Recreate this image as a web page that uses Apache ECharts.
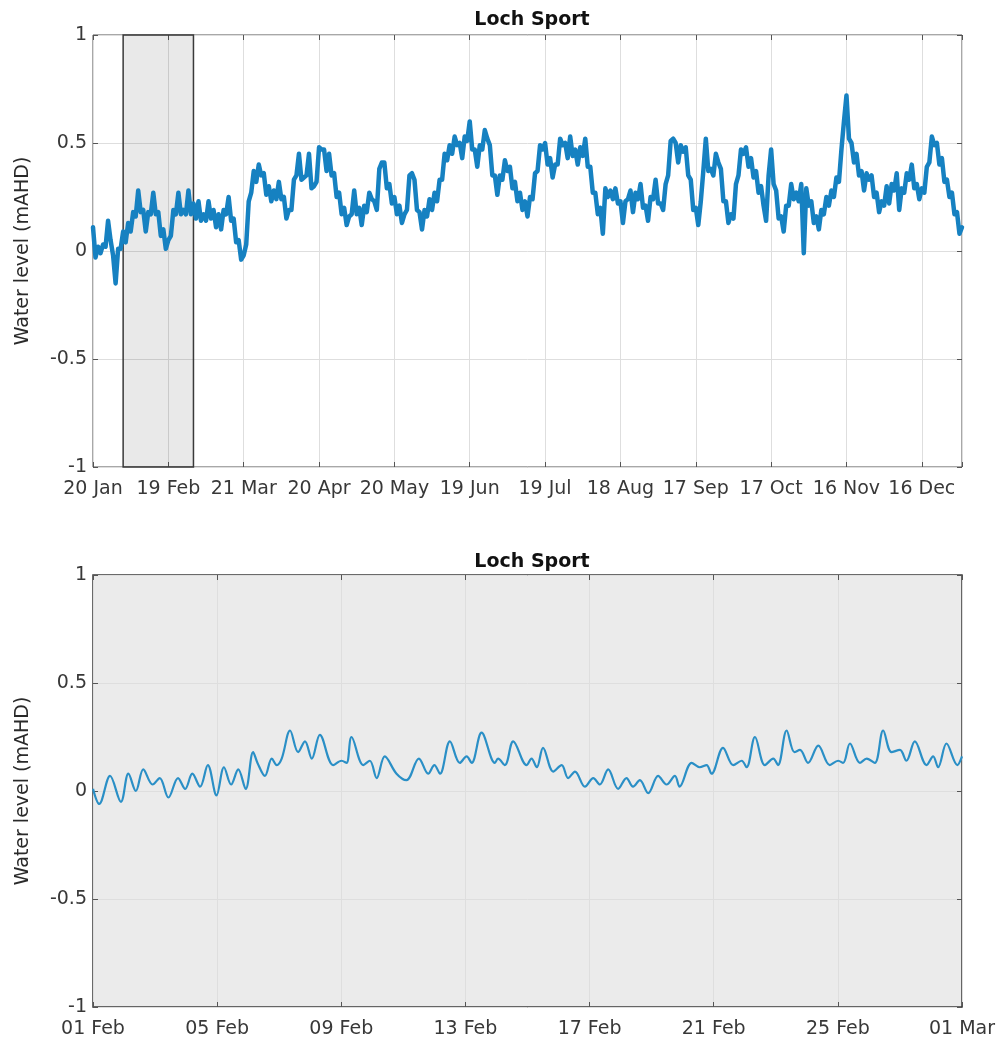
<!DOCTYPE html>
<html><head><meta charset="utf-8">
<script src="https://cdn.jsdelivr.net/npm/echarts@6/dist/echarts.min.js"></script>
<style>html,body{margin:0;padding:0;background:#fff}#c{width:1002px;height:1049px}</style>
</head><body><div id="c"></div>
<script>
// ---------------- data ----------------
const chartTitle = 'Loch Sport';
const yAxisName = 'Water level (mAHD)';
const yTickValues = [-1, -0.5, 0, 0.5, 1];

// Top panel: x is days since 20 Jan (daily samples)
const yearTickLabels = ['20 Jan','19 Feb','21 Mar','20 Apr','20 May','19 Jun','19 Jul','18 Aug','17 Sep','17 Oct','16 Nov','16 Dec'];
const yearLevels = [
 0.11,-0.03,0.02,-0.01,0.03,0.02,0.14,0.05,-0.02,-0.15,
 0.01,0.01,0.09,0.04,0.13,0.09,0.18,0.16,0.28,0.18,
 0.19,0.09,0.18,0.17,0.27,0.17,0.18,0.07,0.1,0.01,
 0.05,0.07,0.19,0.17,0.27,0.17,0.19,0.17,0.28,0.17,
 0.22,0.15,0.23,0.14,0.17,0.14,0.23,0.15,0.19,0.11,
 0.17,0.1,0.19,0.17,0.25,0.14,0.15,0.04,0.05,-0.04,
 -0.02,0.03,0.23,0.27,0.37,0.32,0.4,0.35,0.36,0.26,
 0.3,0.23,0.28,0.24,0.32,0.24,0.25,0.15,0.19,0.19,
 0.33,0.35,0.45,0.33,0.34,0.35,0.45,0.29,0.3,0.32,
 0.48,0.47,0.47,0.37,0.45,0.35,0.36,0.25,0.27,0.17,
 0.2,0.12,0.16,0.17,0.28,0.17,0.2,0.12,0.21,0.18,
 0.27,0.24,0.23,0.19,0.38,0.41,0.41,0.29,0.31,0.22,
 0.25,0.17,0.21,0.13,0.17,0.19,0.35,0.36,0.33,0.19,
 0.18,0.1,0.19,0.16,0.24,0.19,0.27,0.23,0.33,0.33,
 0.45,0.42,0.49,0.45,0.53,0.49,0.5,0.43,0.53,0.51,
 0.6,0.47,0.47,0.39,0.49,0.47,0.56,0.52,0.49,0.35,
 0.35,0.26,0.35,0.33,0.42,0.37,0.39,0.29,0.32,0.23,
 0.27,0.19,0.23,0.16,0.25,0.24,0.36,0.37,0.49,0.47,
 0.5,0.4,0.43,0.34,0.4,0.4,0.52,0.49,0.5,0.43,
 0.53,0.44,0.47,0.4,0.48,0.44,0.52,0.39,0.39,0.27,
 0.27,0.17,0.2,0.08,0.29,0.25,0.28,0.24,0.29,0.22,
 0.23,0.13,0.23,0.24,0.28,0.18,0.27,0.24,0.31,0.2,
 0.21,0.14,0.25,0.24,0.33,0.22,0.22,0.19,0.31,0.35,
 0.51,0.52,0.5,0.41,0.49,0.46,0.48,0.35,0.33,0.19,
 0.2,0.12,0.23,0.37,0.52,0.37,0.38,0.35,0.45,0.41,
 0.38,0.23,0.23,0.13,0.17,0.15,0.31,0.35,0.47,0.45,
 0.48,0.39,0.43,0.34,0.37,0.27,0.3,0.21,0.14,0.35,
 0.47,0.31,0.28,0.15,0.16,0.09,0.21,0.21,0.31,0.24,
 0.27,0.23,0.31,-0.01,0.29,0.21,0.23,0.13,0.16,0.1,
 0.19,0.17,0.25,0.21,0.28,0.25,0.34,0.32,0.47,0.6,
 0.72,0.52,0.5,0.41,0.45,0.35,0.37,0.28,0.36,0.33,
 0.35,0.25,0.27,0.18,0.23,0.21,0.3,0.22,0.31,0.28,
 0.36,0.19,0.29,0.27,0.36,0.33,0.4,0.29,0.31,0.24,
 0.29,0.27,0.39,0.41,0.53,0.49,0.5,0.4,0.43,0.32,
 0.33,0.25,0.27,0.17,0.18,0.08,0.11
];
const yearTickStep = 30;     // days between top ticks
const yearSpanDays = 346;    // 20 Jan -> 1 Jan
const focusStartDay = 12;    // 1 Feb
const focusEndDay = 40;      // 1 Mar

// Bottom panel: x is days since 01 Feb (tidal turning points)
const febTickLabels = ['01 Feb','05 Feb','09 Feb','13 Feb','17 Feb','21 Feb','25 Feb','01 Mar'];
const febTickStep = 4;
const febSpanDays = 28;
const febDays = [
 0.00,0.20,0.55,0.90,1.14,1.38,1.62,1.92,2.15,2.43,2.74,2.97,3.20,3.45,3.70,3.98,4.22,4.45,4.68,4.92,
 5.16,5.30,5.54,5.76,5.92,6.08,6.35,6.61,6.83,7.05,7.31,7.74,8.01,8.17,8.33,8.71,8.92,9.14,9.40,9.78,
 10.10,10.50,10.80,11.00,11.18,11.50,11.82,12.04,12.20,12.52,12.95,13.05,13.27,13.54,13.97,14.13,14.30,14.50,14.83,15.10,
 15.31,15.53,15.85,16.12,16.33,16.60,16.92,17.19,17.40,17.62,17.89,18.21,18.48,18.75,18.90,19.29,19.55,19.77,19.93,20.30,
 20.63,20.90,21.06,21.33,21.65,21.92,22.07,22.35,22.60,22.78,23.04,23.37,23.74,24.01,24.17,24.39,24.71,24.93,25.19,25.46,
 25.73,26.00,26.21,26.48,26.86,27.07,27.23,27.50,27.85,28.00
];
const febLevels = [
 0.01,-0.06,0.07,-0.05,0.08,0.00,0.10,0.03,0.06,-0.03,0.06,0.01,0.08,0.02,0.12,-0.02,0.11,0.03,0.10,0.01,
 0.18,0.13,0.07,0.15,0.12,0.15,0.28,0.18,0.23,0.15,0.26,0.12,0.14,0.13,0.25,0.12,0.14,0.06,0.16,0.08,
 0.05,0.15,0.08,0.12,0.08,0.23,0.13,0.16,0.13,0.27,0.13,0.15,0.12,0.23,0.12,0.15,0.11,0.20,0.09,0.12,
 0.06,0.09,0.02,0.06,0.03,0.10,0.01,0.06,0.02,0.05,-0.01,0.07,0.03,0.07,0.02,0.13,0.11,0.12,0.08,0.20,
 0.12,0.14,0.11,0.25,0.12,0.15,0.12,0.28,0.18,0.19,0.13,0.21,0.12,0.14,0.13,0.22,0.13,0.15,0.13,0.28,
 0.18,0.19,0.14,0.23,0.12,0.16,0.11,0.22,0.12,0.16
];

// ---------------- chart ----------------
const FONT = "'DejaVu Sans', 'Liberation Sans', sans-serif";
const labelColor = '#383838';
const gridLine = { show: true, lineStyle: { color: '#dedede', width: 1 } };
const tickStyle = { show: true, inside: true, length: 5, lineStyle: { color: '#555' } };

function xAxes(gridIndex, span, step, labels) {
  return [{
    type: 'value', gridIndex, min: 0, max: span, interval: step, position: 'bottom',
    axisLine: { show: false, onZero: false },
    axisTick: tickStyle,
    axisLabel: {
      color: labelColor, fontFamily: FONT, fontSize: 19, margin: 13,
      showMaxLabel: true,
      formatter: v => { const i = Math.round(v / step); return (Math.abs(v - i * step) < 1e-6 && labels[i]) ? labels[i] : ''; }
    },
    splitLine: gridLine
  }, {
    type: 'value', gridIndex, min: 0, max: span, interval: step, position: 'top',
    axisLine: { show: false, onZero: false }, axisLabel: { show: false }, splitLine: { show: false },
    axisTick: tickStyle
  }];
}
function yAxes(gridIndex) {
  return [{
    type: 'value', gridIndex, min: yTickValues[0], max: yTickValues[yTickValues.length - 1], interval: 0.5,
    position: 'left',
    name: yAxisName, nameLocation: 'middle', nameGap: 60, nameRotate: 90,
    nameTextStyle: { color: '#2a2a2a', fontFamily: FONT, fontSize: 19 },
    axisLine: { show: false, onZero: false },
    axisTick: tickStyle,
    axisLabel: { color: labelColor, fontFamily: FONT, fontSize: 19, margin: 6, formatter: v => String(v) },
    splitLine: gridLine
  }, {
    type: 'value', gridIndex, min: -1, max: 1, interval: 0.5, position: 'right',
    axisLine: { show: false, onZero: false }, axisLabel: { show: false }, splitLine: { show: false },
    axisTick: tickStyle
  }];
}

const chart = echarts.init(document.getElementById('c'), null, { renderer: 'canvas' });
chart.setOption({
  animation: false,
  backgroundColor: '#ffffff',
  title: [
    { text: chartTitle, left: 527, top: 6, textAlign: 'center',
      textStyle: { fontFamily: FONT, fontSize: 19, fontWeight: 'bold', color: '#111' } },
    { text: chartTitle, left: 527, top: 548, textAlign: 'center',
      textStyle: { fontFamily: FONT, fontSize: 19, fontWeight: 'bold', color: '#111' } }
  ],
  grid: [
    { left: 93, top: 35, width: 869, height: 432, show: true, backgroundColor: '#ffffff', borderColor: '#505050', borderWidth: 1 },
    { left: 93, top: 575, width: 869, height: 432, show: true, backgroundColor: '#ebebeb', borderColor: '#3a3a3a', borderWidth: 1.5 }
  ],
  xAxis: [
    ...xAxes(0, yearSpanDays, yearTickStep, yearTickLabels),
    ...xAxes(1, febSpanDays, febTickStep, febTickLabels)
  ],
  yAxis: [...yAxes(0), ...yAxes(1)],
  series: [
    {
      type: 'line', xAxisIndex: 0, yAxisIndex: 0, showSymbol: false, symbol: 'none',
      sampling: undefined,
      data: yearLevels.map((v, i) => [i, v]),
      lineStyle: { color: '#1681c1', width: 4.5, join: 'round', cap: 'round' },
      markArea: {
        silent: true,
        itemStyle: { color: 'rgba(0,0,0,0.085)', borderColor: '#3a3a3a', borderWidth: 1.5 },
        data: [[{ xAxis: focusStartDay, yAxis: -1 }, { xAxis: focusEndDay, yAxis: 1 }]]
      },
      z: 3
    },
    {
      type: 'line', xAxisIndex: 2, yAxisIndex: 2, showSymbol: false, symbol: 'none', smooth: 0.35,
      data: febDays.map((d, i) => [d, febLevels[i]]),
      lineStyle: { color: '#2a8fc6', width: 2.2 },
      z: 3
    }
  ]
});
</script>
</body></html>
